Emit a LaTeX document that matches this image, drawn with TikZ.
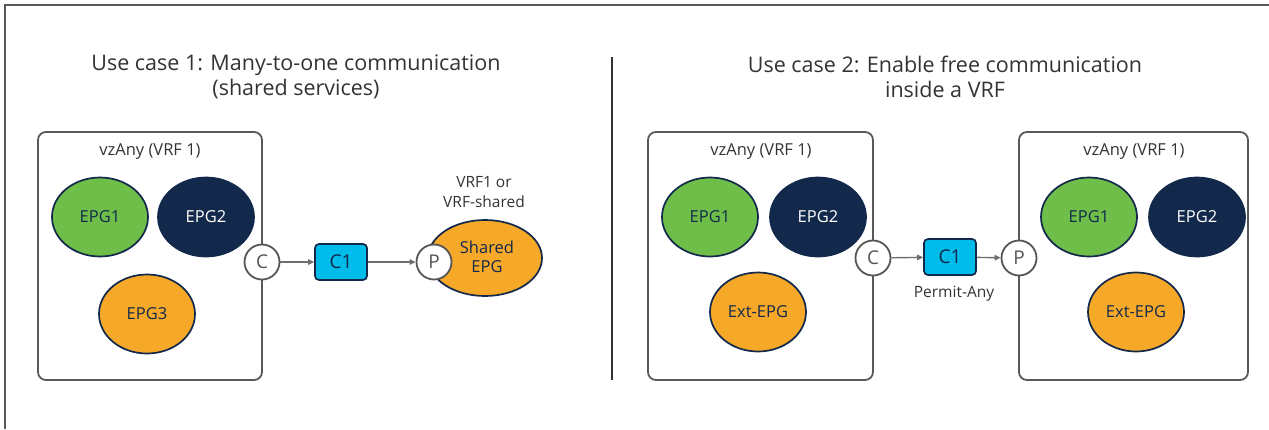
\documentclass[tikz,border=0pt]{standalone}
\usepackage{fontspec}
\setmainfont{Open Sans}
\usetikzlibrary{shapes.geometric,arrows.meta}
\definecolor{epggreen}{HTML}{6EBE49}
\definecolor{epgnavy}{HTML}{13294B}
\definecolor{epgorange}{HTML}{F6A828}
\definecolor{ccyan}{HTML}{00BCEB}
\definecolor{boxgrey}{HTML}{58595B}
\definecolor{txtgrey}{HTML}{333333}
\definecolor{portgrey}{HTML}{555555}
\definecolor{arrgrey}{HTML}{6D6E71}
\tikzset{
  epg/.style={ellipse, draw=epgnavy, line width=1.7pt, minimum width=96pt, minimum height=79pt, inner sep=0pt, text=epgnavy, font=\fontsize{16.5}{19}\selectfont},
  epgG/.style={epg, fill=epggreen},
  epgN/.style={epg, fill=epgnavy, text=white},
  epgO/.style={epg, fill=epgorange},
  vrfbox/.style={draw=boxgrey, line width=1.8pt, rounded corners=8pt},
  boxlabel/.style={text=txtgrey, font=\fontsize{16.5}{19}\selectfont},
  port/.style={circle, draw=portgrey, fill=white, line width=1.8pt, minimum size=35pt, inner sep=0pt, text=portgrey, font=\fontsize{19}{21}\selectfont},
  contract/.style={rectangle, rounded corners=4pt, draw=epgnavy, fill=ccyan, line width=1.7pt, minimum width=52pt, minimum height=36pt, inner sep=0pt, text=epgnavy, font=\fontsize{19}{21}\selectfont},
  flow/.style={draw=arrgrey, line width=1.4pt, -{Triangle[length=6pt,width=5.5pt]}},
  title/.style={text=txtgrey, align=center, font=\fontsize{21.5}{25}\selectfont},
  note/.style={text=txtgrey, align=center, font=\fontsize{15.5}{19.5}\selectfont}
}
\begin{document}
\begin{tikzpicture}[x=1pt,y=-1pt]
\useasboundingbox (0,0) rectangle (1269,429);
% outer frame (top and left only)
\draw[boxgrey, line width=1.8pt] (5,429) -- (5,5) -- (1269,5);
% divider
\draw[txtgrey, line width=1.6pt] (612,57) -- (612,380);
% titles
\node[title] (t1) at (296,77) {Use case 1: Many-to-one communication\\(shared services)};
\node[title] (t2) at (945,77) {Use case 2: Enable free communication\\inside a VRF};

% ---- use case 1 ----
\draw[vrfbox] (38,132) rectangle (262,380);
\node[boxlabel] (l1) at (150,152) {vzAny (VRF 1)};
\node[epgG] (a1) at (100,217) {EPG1};
\node[epgN] (a2) at (206,217) {EPG2};
\node[epgO] (a3) at (147,314) {EPG3};
\node[port] (ac) at (262,262) {C};
\node[contract] (ak) at (341,262) {C1};
\node[epgO, minimum width=114pt, minimum height=76pt] (se) at (485,258) {};
\node[epgO, draw=none, fill=none, minimum width=0pt, minimum height=0pt, align=center, font=\fontsize{16.5}{19}\selectfont] (set) at (487,257) {Shared\\EPG};
\node[port] (ap) at (434,262) {P};
\node[note] (vn) at (484,192) {VRF1 or\\VRF-shared};
\draw[flow] (ac) -- (ak);
\draw[flow] (ak) -- (ap);

% ---- use case 2 ----
\draw[vrfbox] (648,132) rectangle (873,380);
\node[boxlabel] (l2) at (761,152) {vzAny (VRF 1)};
\node[epgG] (b1) at (710,217) {EPG1};
\node[epgN] (b2) at (818,217) {EPG2};
\node[epgO] (b3) at (758,312) {Ext-EPG};
\draw[vrfbox] (1019,132) rectangle (1248,380);
\node[boxlabel] (l3) at (1134,152) {vzAny (VRF 1)};
\node[epgG] (c1) at (1089,217) {EPG1};
\node[epgN] (c2) at (1197,217) {EPG2};
\node[epgO] (c3) at (1136,312) {Ext-EPG};
\node[port] (bc) at (873,258) {C};
\node[contract] (bk) at (950,257) {C1};
\node[port] (bp) at (1019,258) {P};
\node[note] (pa) at (954,294) {Permit-Any};
\draw[flow] (bc) -- (bk);
\draw[flow] (bk) -- (bp);
\end{tikzpicture}
\end{document}
